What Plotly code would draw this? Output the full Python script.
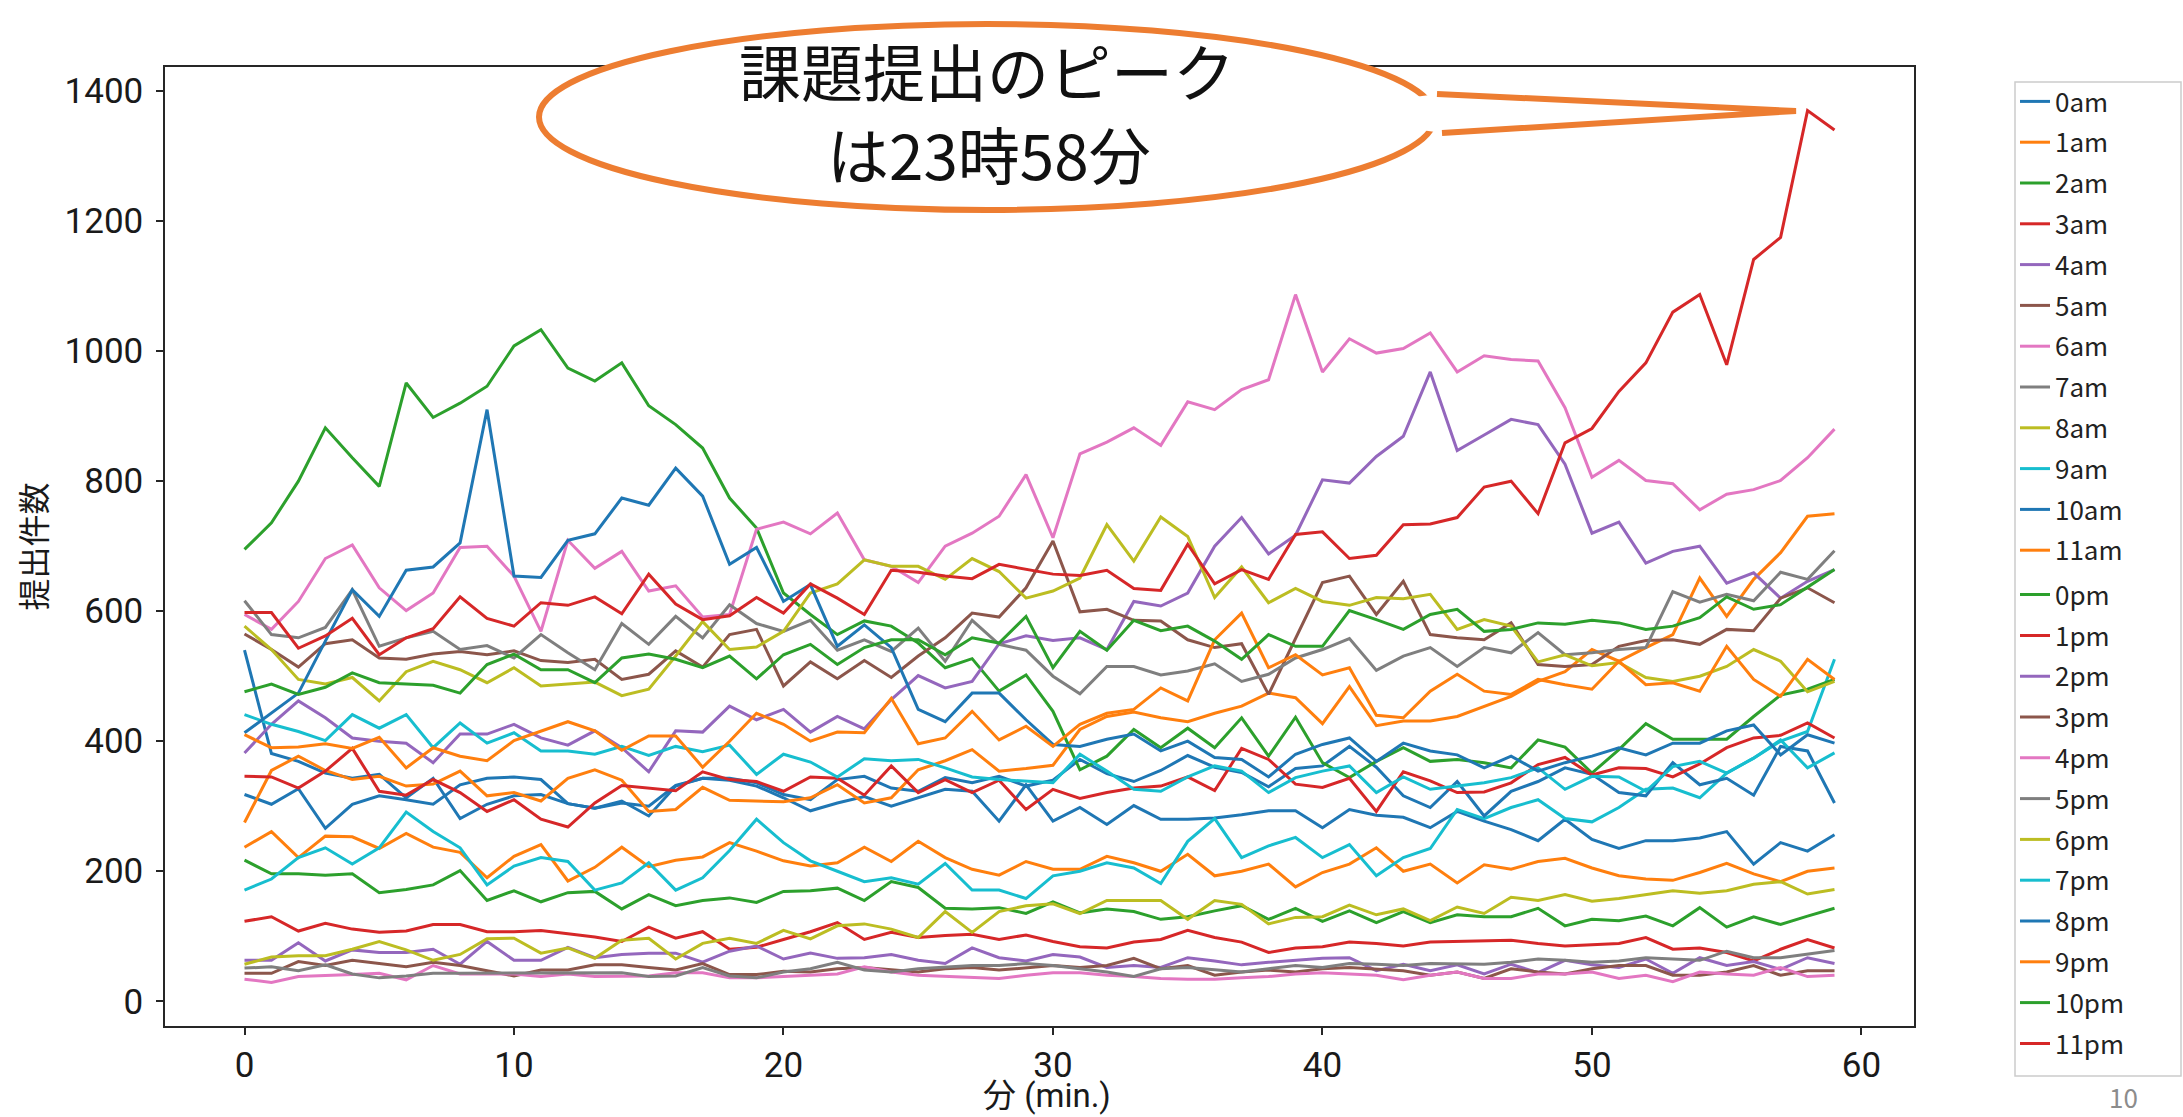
import plotly.graph_objects as go

minutes = list(range(60))

hours = ["0am", "1am", "2am", "3am", "4am", "5am", "6am", "7am", "8am", "9am", "10am", "11am",
         "0pm", "1pm", "2pm", "3pm", "4pm", "5pm", "6pm", "7pm", "8pm", "9pm", "10pm", "11pm"]

s_0am = [318, 303, 327, 266, 303, 316, 310, 303, 333, 343, 345, 341, 304, 297, 305, 300, 332, 343, 340, 331,
         313, 293, 305, 315, 300, 313, 326, 323, 277, 333, 277, 298, 272, 301, 280, 280, 282, 287, 293, 293, 267, 295,
         286, 283, 267, 292, 277, 264, 247, 280, 249, 235, 247, 247, 251, 261, 211, 244, 231, 256]
s_1am = [237, 261, 221, 254, 253, 235, 258, 237, 229, 190, 223, 241, 185, 206, 237, 207, 217, 222, 244, 231,
         216, 208, 213, 237, 215, 246, 221, 203, 194, 215, 203, 203, 223, 213, 200, 226, 193, 200, 211, 176, 198, 211, 236,
         200, 211, 182, 210, 203, 215, 220, 205, 193, 188, 186, 198, 212, 196, 184, 200, 205]
s_2am = [217, 196, 196, 194, 196, 167, 172, 179, 201, 155, 170, 153, 167, 169, 142, 164, 147, 155, 159, 152,
         169, 170, 174, 155, 184, 175, 143, 142, 144, 135, 153, 136, 142, 138, 126, 130, 139, 147, 126, 143, 123, 139, 121,
         138, 121, 133, 130, 130, 143, 116, 126, 124, 131, 116, 144, 114, 130, 118, 131, 143]
s_3am = [123, 130, 108, 120, 111, 106, 108, 118, 118, 107, 107, 109, 104, 99, 92, 114, 97, 107, 80, 83,
         95, 107, 121, 95, 106, 98, 101, 103, 95, 102, 92, 84, 82, 91, 95, 109, 98, 91, 75, 82, 84, 91, 89,
         85, 91, 92, 94, 94, 89, 85, 87, 89, 98, 80, 82, 75, 62, 80, 95, 82]
s_4am = [63, 63, 90, 62, 79, 75, 75, 80, 57, 92, 63, 63, 83, 67, 72, 74, 74, 60, 77, 85,
         65, 74, 66, 67, 72, 63, 58, 82, 67, 62, 72, 68, 52, 55, 52, 67, 62, 56, 60, 63, 66, 67, 47,
         57, 47, 56, 42, 57, 44, 63, 56, 52, 65, 43, 67, 55, 61, 49, 67, 58]
s_5am = [43, 43, 61, 55, 63, 58, 53, 60, 55, 47, 39, 48, 48, 56, 56, 52, 48, 58, 41, 41,
         46, 45, 50, 52, 48, 45, 50, 52, 48, 52, 55, 52, 55, 66, 50, 55, 40, 45, 48, 45,
         50, 52, 50, 47, 40, 45, 35, 50, 45, 42, 50, 55, 55, 40, 40, 45, 55, 40, 47, 47]
s_6am = [34, 29, 38, 39, 41, 43, 33, 55, 42, 42, 42, 38, 42, 38, 38, 39, 44, 44, 36, 36,
         38, 40, 42, 53, 45, 40, 38, 36, 35, 40, 44, 44, 40, 38, 35, 34, 34, 36, 38, 42,
         44, 42, 40, 33, 40, 45, 35, 35, 42, 42, 45, 35, 40, 30, 45, 42, 40, 52, 38, 40]
s_7am = [51, 53, 47, 56, 42, 36, 39, 43, 43, 43, 43, 44, 43, 43, 44, 38, 39, 52, 39, 36,
         45, 50, 60, 48, 45, 50, 52, 55, 55, 58, 55, 50, 45, 38, 50, 52, 48, 45, 50, 55,
         52, 58, 57, 55, 58, 58, 57, 60, 65, 63, 60, 62, 67, 65, 63, 77, 67, 67, 72, 78]
s_8am = [57, 68, 70, 70, 80, 92, 79, 63, 72, 96, 97, 74, 82, 66, 94, 97, 65, 89, 97, 89,
         109, 96, 116, 119, 111, 98, 138, 106, 138, 147, 150, 135, 155, 155, 155, 126, 155, 149, 119, 129, 130, 148, 133,
         142, 124, 145, 135, 160, 155, 164, 154, 158, 164, 170, 166, 170, 180, 184, 165, 172]
s_9am = [171, 188, 221, 236, 211, 236, 291, 261, 236, 179, 208, 221, 215, 171, 182, 213, 171, 190, 232, 280,
         244, 216, 200, 184, 190, 180, 212, 171, 171, 158, 193, 200, 213, 205, 181, 246, 281, 221, 239, 252, 221, 241, 193,
         221, 235, 295, 281, 298, 310, 281, 276, 298, 326, 328, 313, 351, 374, 400, 415, 526]
s_10am = [540, 381, 369, 351, 343, 349, 313, 343, 281, 303, 316, 318, 304, 297, 308, 285, 331, 343, 343, 336,
          318, 310, 341, 346, 328, 323, 344, 336, 346, 331, 340, 372, 350, 338, 355, 378, 360, 352, 330, 358, 362, 392,
          360, 316, 298, 338, 285, 323, 338, 359, 349, 321, 316, 367, 333, 343, 317, 392, 385, 305]
s_11am = [275, 355, 377, 355, 341, 346, 331, 334, 354, 316, 321, 308, 343, 356, 340, 292, 295, 329, 309, 308,
          307, 313, 333, 305, 313, 356, 370, 387, 354, 358, 363, 418, 438, 445, 436, 430, 443, 454, 474, 467, 427, 484, 424,
          431, 431, 438, 454, 469, 492, 507, 541, 523, 544, 564, 651, 592, 649, 690, 746, 750]
s_0pm = [695, 736, 800, 882, 836, 792, 951, 898, 920, 946, 1008, 1033, 974, 954, 982, 916, 887, 851, 774, 728,
         628, 595, 564, 585, 577, 551, 513, 527, 477, 502, 446, 356, 377, 418, 390, 420, 390, 436, 377, 437, 367, 344,
         369, 390, 369, 372, 367, 359, 402, 391, 351, 387, 427, 403, 403, 403, 438, 471, 480, 495]
s_1pm = [346, 345, 328, 354, 389, 323, 317, 341, 321, 292, 310, 280, 268, 305, 332, 328, 324, 353, 341, 338,
         323, 345, 343, 317, 362, 321, 341, 321, 340, 295, 326, 312, 321, 328, 331, 345, 324, 389, 372, 334, 329, 343, 292,
         353, 339, 321, 322, 336, 364, 375, 348, 359, 358, 345, 365, 390, 405, 409, 428, 405]
s_2pm = [382, 426, 462, 436, 405, 400, 397, 367, 411, 411, 426, 405, 394, 416, 390, 353, 416, 414, 454, 433,
         449, 414, 438, 419, 464, 501, 482, 492, 550, 562, 555, 559, 541, 615, 608, 628, 700, 744, 688, 717, 802, 797, 838,
         869, 968, 847, 871, 895, 887, 826, 720, 737, 674, 692, 700, 643, 659, 620, 646, 664]
s_3pm = [565, 541, 514, 550, 556, 528, 526, 534, 538, 533, 539, 524, 521, 526, 495, 503, 539, 514, 564, 572,
         485, 522, 496, 524, 498, 531, 559, 597, 591, 636, 708, 599, 603, 586, 585, 556, 544, 550, 472, 559, 644, 654, 595,
         646, 564, 559, 556, 582, 518, 515, 518, 546, 555, 556, 549, 572, 570, 620, 636, 613]
s_4pm = [595, 572, 615, 681, 702, 636, 601, 628, 698, 700, 654, 569, 709, 666, 692, 631, 639, 591, 595, 726,
         737, 719, 751, 679, 669, 644, 700, 720, 746, 810, 713, 842, 860, 882, 855, 922, 910, 941, 956, 1087, 968, 1019, 997,
         1004, 1028, 968, 993, 987, 985, 913, 806, 832, 801, 796, 756, 780, 787, 801, 836, 880]
s_5pm = [616, 564, 559, 575, 633, 546, 559, 569, 541, 547, 528, 564, 536, 510, 581, 549, 592, 559, 610, 581,
         569, 586, 540, 556, 538, 574, 523, 586, 549, 540, 500, 473, 515, 515, 502, 508, 519, 492, 503, 528, 541, 558, 509,
         531, 544, 515, 544, 536, 567, 533, 536, 541, 544, 630, 614, 626, 616, 660, 649, 693]
s_6pm = [577, 541, 495, 488, 498, 462, 507, 523, 510, 490, 513, 485, 488, 491, 470, 480, 531, 584, 541, 545,
         569, 628, 642, 679, 669, 669, 649, 681, 661, 620, 631, 651, 733, 677, 745, 715, 621, 668, 613, 635, 615, 609, 621,
         619, 626, 572, 587, 577, 522, 533, 516, 521, 498, 492, 500, 515, 541, 523, 476, 492]
s_7pm = [441, 426, 415, 401, 441, 420, 441, 390, 428, 397, 413, 385, 385, 380, 392, 378, 392, 384, 394, 349,
         380, 368, 345, 373, 370, 372, 359, 345, 341, 339, 336, 380, 354, 326, 323, 345, 362, 354, 321, 344, 354, 362, 321,
         345, 326, 331, 336, 344, 359, 326, 346, 345, 323, 361, 369, 351, 374, 402, 359, 382]
s_8pm = [413, 444, 474, 554, 633, 592, 663, 668, 705, 910, 654, 652, 709, 719, 774, 763, 820, 777, 672, 698,
         615, 641, 546, 579, 544, 449, 430, 474, 474, 433,
         395, 392, 403, 411, 385, 400, 375, 372, 345, 380, 395, 405,
         369, 397, 385, 379, 359, 377, 354, 367, 377, 390, 379, 397, 397, 416, 425, 379, 410, 397]
s_9pm = [410, 390, 391, 396, 389, 406, 359, 390, 377, 370, 401, 416, 430, 416, 386, 408, 408, 360, 400, 443,
         426, 400, 414, 413, 466, 396, 405, 446, 402, 423, 392, 426, 443, 449, 482, 462, 556, 597, 513, 533, 502, 513, 440,
         436, 477, 503, 477, 472, 495, 487, 480, 523, 487, 490, 477, 546, 495, 469, 526, 495]
s_10pm = [476, 488, 472, 483, 505, 490, 488, 486, 474, 518, 534, 510, 510, 490, 528, 534, 526, 513, 531, 496,
          533, 549, 518, 544, 556, 556, 533, 559, 551, 592, 513, 569, 540, 586, 570, 577, 554, 526, 564, 546, 546, 601, 587,
          572, 595, 603, 569, 572, 582, 580, 586, 582, 572, 577, 590, 622, 603, 610, 637, 664]
s_11pm = [598, 598, 543, 562, 589, 533, 559, 573, 622, 589, 577, 613, 609, 622, 596, 657, 611, 587, 593, 621,
          597, 642, 620, 595, 663, 660, 654, 650, 672, 664, 657, 655, 663, 635, 632, 703, 642, 664, 649, 718, 722, 681, 686,
          733, 734, 744, 791, 800, 750, 859, 881, 938, 982, 1060, 1087, 979, 1141, 1175, 1370, 1340]

series = [s_0am, s_1am, s_2am, s_3am, s_4am, s_5am, s_6am, s_7am, s_8am, s_9am, s_10am, s_11am,
          s_0pm, s_1pm, s_2pm, s_3pm, s_4pm, s_5pm, s_6pm, s_7pm, s_8pm, s_9pm, s_10pm, s_11pm]

for name, s in zip(hours, series):
    assert len(s) == 60, (name, len(s))

tab10 = ["#1f77b4", "#ff7f0e", "#2ca02c", "#d62728", "#9467bd",
         "#8c564b", "#e377c2", "#7f7f7f", "#bcbd22", "#17becf"]

FONT = "Noto Sans CJK JP"
TICKFONT = "Roboto"
W, H = 2183, 1117
L, R, T, B = 165, 269, 67, 91
PW, PH = W - L - R, H - T - B


def px(x):
    return (x - L) / PW


def py(y):
    return (H - B - y) / PH


fig = go.Figure()
for i, (name, s) in enumerate(zip(hours, series)):
    fig.add_trace(go.Scatter(x=minutes, y=s, mode="lines", name=name, legendgroup=name,
                             legend="legend" if i < 12 else "legend2",
                             line=dict(color=tab10[i % 10], width=3)))

# matplotlib-like 5% margins
allv = [v for s in series for v in s]
ymin, ymax = min(allv), max(allv)
ypad = (ymax - ymin) * 0.05
xpad = (minutes[-1] - minutes[0]) * 0.05

axis_common = dict(showgrid=False, zeroline=False, showline=True, mirror=True,
                   linecolor="#262626", linewidth=1.5, ticks="outside", ticklen=7,
                   tickwidth=1.5, tickcolor="#262626",
                   tickfont=dict(family=TICKFONT, size=35, color="#1a1a1a"))

fig.update_xaxes(range=[minutes[0] - xpad, minutes[-1] + xpad], tick0=0, dtick=10,
                 ticklabelstandoff=0, **axis_common)
fig.update_yaxes(range=[ymin - ypad, ymax + ypad], tick0=0, dtick=200, ticklabelstandoff=6,
                 **axis_common)

orange = "#ED7D31"
shapes = []
# legend frame (two stacked legends share one frame)
shapes.append(dict(type="rect", xref="paper", yref="paper", layer="below",
                   x0=px(2015), x1=px(2181), y0=py(1076), y1=py(82),
                   line=dict(color="#cccccc", width=1.5), fillcolor="white"))
# speech bubble ellipse
shapes.append(dict(type="circle", xref="paper", yref="paper", layer="above",
                   x0=px(539), x1=px(1435), y0=py(210), y1=py(24),
                   line=dict(color=orange, width=6), fillcolor="white"))
# pointer: white fill covering ellipse outline, then orange edges
ax_, ay_ = 1437, 94
bx_, by_ = 1442, 133
tx_, ty_ = 1796, 111
fill_path = "M {} {} L {} {} L {} {} L {} {} L {} {} Z".format(
    px(1400), py(99), px(ax_), py(ay_), px(tx_), py(ty_), px(bx_), py(by_), px(1408), py(128))
shapes.append(dict(type="path", xref="paper", yref="paper", layer="above", path=fill_path,
                   fillcolor="white", line=dict(width=0)))
edge_path = "M {} {} L {} {} L {} {}".format(px(ax_), py(ay_), px(tx_), py(ty_), px(bx_), py(by_))
shapes.append(dict(type="path", xref="paper", yref="paper", layer="above", path=edge_path,
                   fillcolor="rgba(0,0,0,0)", line=dict(color=orange, width=6)))

annotations = [
    dict(xref="paper", yref="paper", x=px(987), y=py(70), text="課題提出のピーク",
         showarrow=False, xanchor="center", yanchor="middle",
         font=dict(family=FONT, size=62, color="#111111")),
    dict(xref="paper", yref="paper", x=px(989), y=py(153), text="は23時58分",
         showarrow=False, xanchor="center", yanchor="middle",
         font=dict(family=FONT, size=62, color="#111111")),
    # y axis title
    dict(xref="paper", yref="paper", x=px(31), y=0.5, text="提出件数", textangle=-90,
         showarrow=False, xanchor="center", yanchor="middle",
         font=dict(family=FONT, size=32, color="#1a1a1a")),
    # x axis title
    dict(xref="paper", yref="paper", x=px(1047), y=py(1095), text="分 (min.)",
         showarrow=False, xanchor="center", yanchor="middle",
         font=dict(family="Roboto, Noto Sans CJK JP", size=33, color="#1a1a1a")),
    # slide number
    dict(xref="paper", yref="paper", x=px(2123), y=py(1096), text="10", showarrow=False,
         xanchor="center", yanchor="middle", font=dict(family=FONT, size=26, color="#8c8c8c")),
]

item_h = 41.1
leg_common = dict(xanchor="left", yanchor="top",
                  font=dict(family=FONT, size=26, color="#222222"),
                  borderwidth=0, bgcolor="rgba(0,0,0,0)",
                  traceorder="grouped", tracegroupgap=4)

fig.update_layout(
    width=W, height=H,
    margin=dict(l=L, r=R, t=T, b=B, autoexpand=False),
    paper_bgcolor="white", plot_bgcolor="white",
    font=dict(family=FONT, color="#222222"),
    showlegend=True,
    legend=dict(x=px(2015), y=py(78), **leg_common),
    legend2=dict(x=px(2015), y=py(78 + 12 * item_h), **leg_common),
    shapes=shapes, annotations=annotations,
)

fig.write_html("out.html", config={"displayModeBar": False},
               post_script="document.body.style.margin='0px';")
